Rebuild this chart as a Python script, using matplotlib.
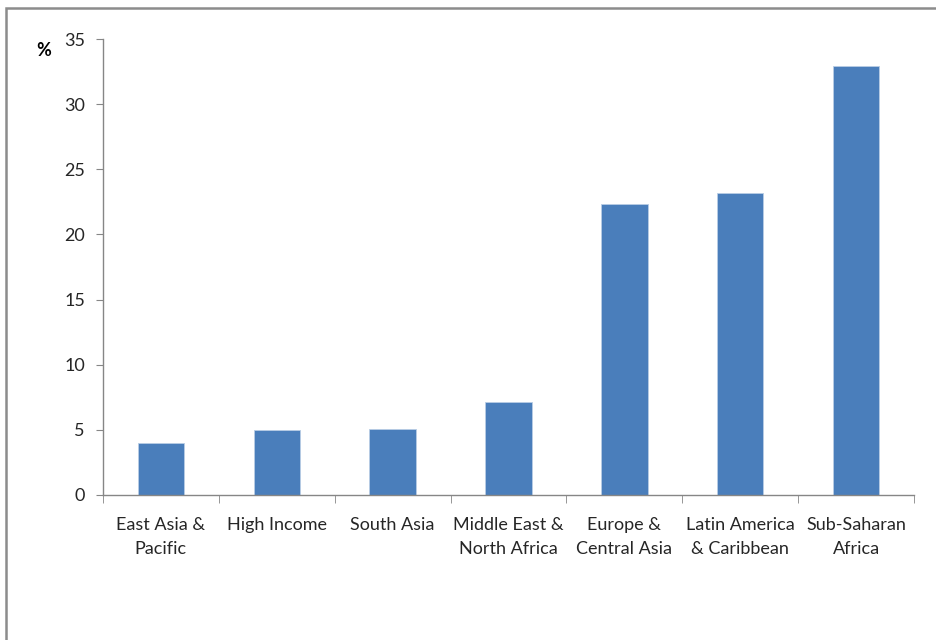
import matplotlib
matplotlib.use("Agg")
import matplotlib.pyplot as plt
from matplotlib.patches import Rectangle
import numpy as np

categories = ["East Asia &\nPacific", "High Income", "South Asia", "Middle East &\nNorth Africa",
              "Europe &\nCentral Asia", "Latin America\n& Caribbean", "Sub-Saharan\nAfrica"]
values = [4.0, 5.0, 5.1, 7.1, 22.3, 23.2, 32.9]
yticks = [0, 5, 10, 15, 20, 25, 30, 35]

plt.rcParams['font.family'] = ['Lato', 'DejaVu Sans']

fig = plt.figure(figsize=(9.37, 6.4), dpi=100)
ax = fig.add_axes([0.1099, 0.2266, 0.8656, 0.7124])

x = np.arange(len(categories))
ax.bar(x, values, width=0.4, color="#4A7EBB", edgecolor="#B9CDE5", linewidth=0.6)

ax.set_xlim(-0.5, len(categories) - 0.5)
ax.set_ylim(0, 35)
ax.set_yticks(yticks)
ax.set_yticklabels([str(v) for v in yticks])
ax.set_xticks(x)
ax.set_xticklabels(categories, linespacing=1.6)
ax.set_xticks(np.arange(-0.5, len(categories), 1.0), minor=True)

for s in ["top", "right"]:
    ax.spines[s].set_visible(False)
for s in ["left", "bottom"]:
    ax.spines[s].set_color("#868686")
    ax.spines[s].set_linewidth(1.0)

ax.tick_params(axis="y", which="major", direction="out", length=5, color="#868686",
               labelsize=13, labelcolor="#262626", pad=8)
ax.tick_params(axis="x", which="major", length=0, labelsize=13, labelcolor="#262626", pad=16)
ax.tick_params(axis="x", which="minor", direction="out", length=6, color="#868686")

fig.text(0.047, 0.921, "%", fontsize=13, fontweight="bold", ha="center", va="center", color="black")

fig.patches.append(Rectangle((0.006, -0.1), 1.2, 1.088, transform=fig.transFigure,
                             fill=False, edgecolor="#8C8C8C", linewidth=1.8))

fig.savefig("out.png", dpi=100)
